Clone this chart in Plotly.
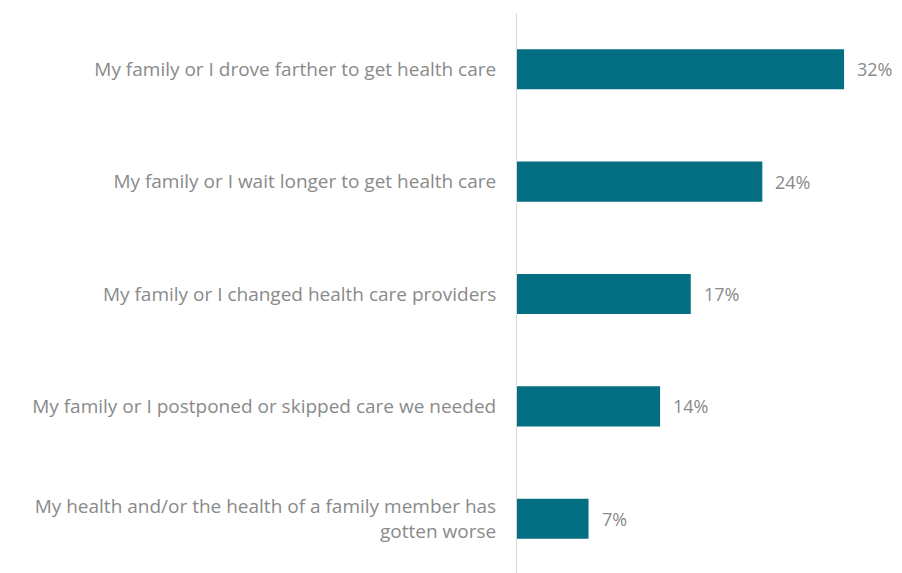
import plotly.graph_objects as go

categories = [
    "My family or I drove farther to get health care",
    "My family or I wait longer to get health care",
    "My family or I changed health care providers",
    "My family or I postponed or skipped care we needed",
    "My health and/or the health of a family member has<br>gotten worse",
]
values = [32, 24, 17, 14, 7]
value_labels = ["32%", "24%", "17%", "14%", "7%"]

BAR = "#046f82"
TXT = "#8a8a8a"
FONT = "Open Sans, sans-serif"
FS = 19

fig = go.Figure(go.Bar(
    x=values, y=categories, orientation="h",
    marker=dict(color=BAR, line=dict(width=0)),
    hoverinfo="skip",
))

for v, c, t in zip(values, categories, value_labels):
    fig.add_annotation(x=v, y=c, text=t, showarrow=False, xanchor="left",
                       xshift=11, font=dict(family=FONT, size=18, color=TXT))

fig.update_layout(
    width=902, height=573,
    margin=dict(l=509, r=0, t=5, b=6),
    paper_bgcolor="white", plot_bgcolor="white",
    bargap=0.643,
    showlegend=False,
    font=dict(family=FONT, size=FS, color=TXT),
    xaxis=dict(range=[0, 38.45], visible=False, fixedrange=True),
    yaxis=dict(autorange="reversed", showline=True, linecolor="#d9d9d9", linewidth=1,
               showgrid=False, ticks="", ticklabelstandoff=16,
               tickfont=dict(family=FONT, size=FS, color=TXT)),
)

fig.write_html("out.html")
